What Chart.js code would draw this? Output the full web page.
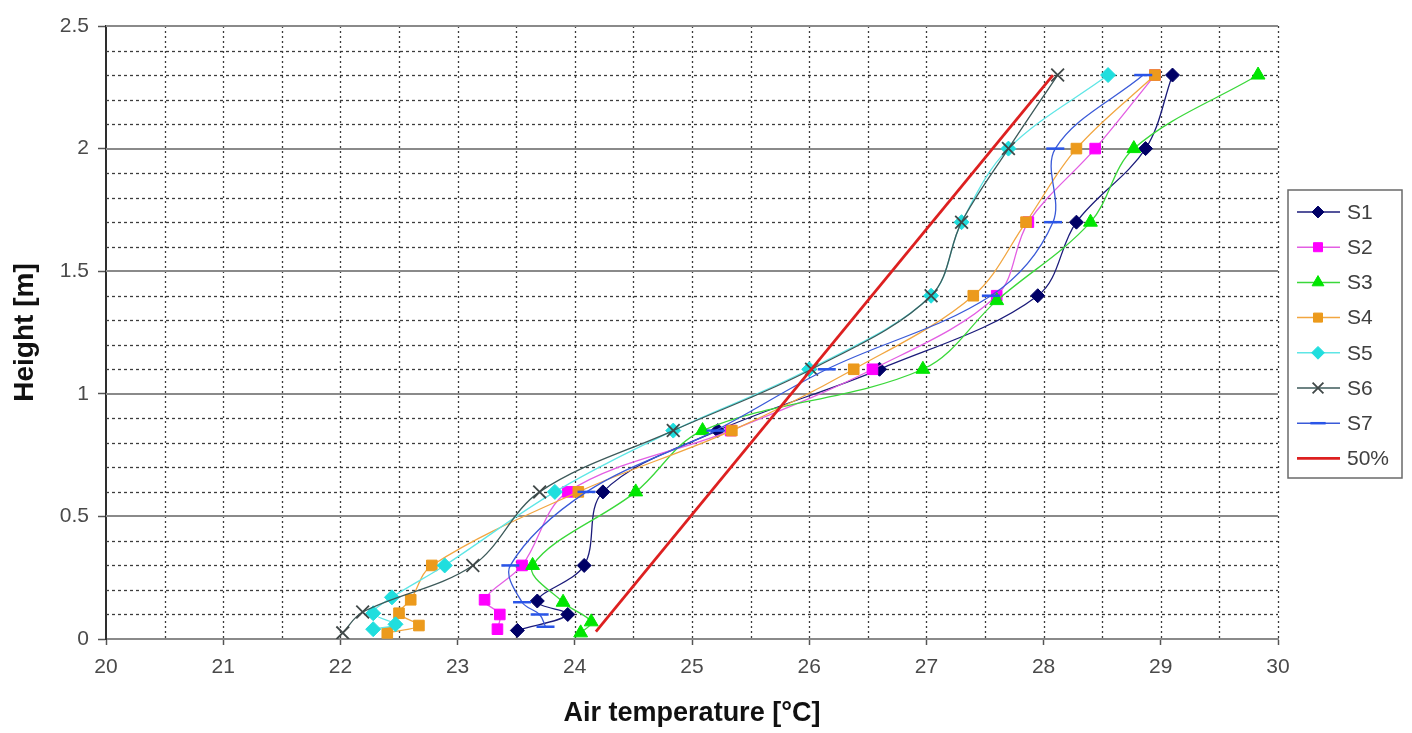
<!DOCTYPE html>
<html>
<head>
<meta charset="utf-8">
<script src="https://cdn.jsdelivr.net/npm/chart.js@4"></script>
<style>
  body { margin: 0; background: #fff; }
  canvas { display: block; }
</style>
</head>
<body>
<canvas id="profile-chart" width="1412" height="733"></canvas>
<script>
// vertical temperature profiles, heights in m, temperatures in °C
var s1Height = [0.035, 0.1, 0.155, 0.3, 0.6, 0.85, 1.1, 1.4, 1.7, 2.0, 2.3];
var s1Temp   = [23.51, 23.94, 23.68, 24.08, 24.24, 25.22, 26.6, 27.95, 28.28, 28.87, 29.1];

var s2Height = [0.04, 0.1, 0.16, 0.3, 0.6, 0.85, 1.1, 1.4, 1.7, 2.0, 2.3];
var s2Temp   = [23.34, 23.36, 23.23, 23.55, 23.94, 25.33, 26.54, 27.6, 27.87, 28.44, 28.95];

var s3Height = [0.025, 0.07, 0.15, 0.3, 0.6, 0.85, 1.1, 1.38, 1.7, 2.0, 2.3];
var s3Temp   = [24.05, 24.14, 23.9, 23.64, 24.52, 25.09, 26.97, 27.6, 28.4, 28.77, 29.83];

var s4Height = [0.025, 0.055, 0.105, 0.16, 0.3, 0.6, 0.85, 1.1, 1.4, 1.7, 2.0, 2.3];
var s4Temp   = [22.4, 22.67, 22.5, 22.6, 22.78, 24.03, 25.34, 26.38, 27.4, 27.85, 28.28, 28.95];

var s5Height = [0.04, 0.06, 0.105, 0.17, 0.3, 0.6, 0.85, 1.1, 1.4, 1.7, 2.0, 2.3];
var s5Temp   = [22.28, 22.47, 22.28, 22.44, 22.89, 23.83, 24.84, 26.0, 27.04, 27.3, 27.7, 28.55];

var s6Height = [0.025, 0.11, 0.3, 0.6, 0.85, 1.1, 1.4, 1.7, 2.0, 2.3];
var s6Temp   = [22.02, 22.19, 23.13, 23.7, 24.84, 26.02, 27.04, 27.3, 27.7, 28.12];

var s7Height = [0.05, 0.1, 0.15, 0.3, 0.6, 0.85, 1.1, 1.4, 1.7, 2.0, 2.3];
var s7Temp   = [23.75, 23.7, 23.55, 23.45, 24.1, 25.2, 26.15, 27.55, 28.08, 28.1, 28.85];

var refHeight = [0.03, 2.3];
var refTemp   = [24.18, 28.08];

var xTickLabels = [20, 21, 22, 23, 24, 25, 26, 27, 28, 29, 30];
var yTickLabels = [0, 0.5, 1, 1.5, 2, 2.5];

function pts(temps, heights) {
  return temps.map(function (t, i) { return { x: t, y: heights[i] }; });
}

function isLabel(list, v) {
  for (var i = 0; i < list.length; i++) if (Math.abs(list[i] - v) < 1e-6) return true;
  return false;
}

var FONT = "'Liberation Sans', Arial, sans-serif";

var series = [
  { label: 'S1', data: pts(s1Temp, s1Height), line: '#1b1b7a', mark: '#000066', style: 'rectRot', r: 7, bw: 1 },
  { label: 'S2', data: pts(s2Temp, s2Height), line: '#e35ee3', mark: '#ff00ff', style: 'rect', r: 7.5, bw: 1 },
  { label: 'S3', data: pts(s3Temp, s3Height), line: '#3ad83a', mark: '#00e600', style: 'triangle', r: 8, bw: 1 },
  { label: 'S4', data: pts(s4Temp, s4Height), line: '#f2a640', mark: '#ec9a1c', style: 'rect', r: 7.5, bw: 1 },
  { label: 'S5', data: pts(s5Temp, s5Height), line: '#5ee6e6', mark: '#20dede', style: 'rectRot', r: 7.5, bw: 1 },
  { label: 'S6', data: pts(s6Temp, s6Height), line: '#3d5a5a', mark: '#404848', style: 'crossRot', r: 9, bw: 1.8 },
  { label: 'S7', data: pts(s7Temp, s7Height), line: '#3a5ad8', mark: '#2a55e8', style: 'line', r: 9, bw: 2.5 },
  { label: '50%', data: pts(refTemp, refHeight), line: '#dd2020', mark: '#dd2020', style: false, r: 0, bw: 0 }
];

var datasets = series.map(function (s, i) {
  return {
    label: s.label,
    data: s.data,
    showLine: true,
    tension: s.label === '50%' ? 0 : 0.35,
    borderColor: s.line,
    borderWidth: s.label === '50%' ? 2.8 : 1.3,
    pointStyle: s.style,
    pointRadius: s.r,
    pointHoverRadius: s.r,
    pointBackgroundColor: s.mark,
    pointBorderColor: s.mark,
    pointBorderWidth: s.bw,
    order: series.length - i
  };
});

// dotted / solid grid in the style of the original spreadsheet chart
var excelGrid = {
  id: 'excelGrid',
  beforeDatasetsDraw: function (chart) {
    var ctx = chart.ctx, a = chart.chartArea, x = chart.scales.x, y = chart.scales.y;
    ctx.save();
    ctx.lineWidth = 1.3;
    ctx.strokeStyle = '#3c3c3c';
    ctx.setLineDash([2, 3]);
    for (var k = 41; k <= 60; k++) {
      var px = Math.round(x.getPixelForValue(k / 2)) + 0.5;
      ctx.beginPath(); ctx.moveTo(px, a.top); ctx.lineTo(px, a.bottom); ctx.stroke();
    }
    ctx.setLineDash([3, 3]);
    for (var j = 1; j < 25; j++) {
      if (j % 5 === 0) continue;
      var py = Math.round(y.getPixelForValue(j / 10)) + 0.5;
      ctx.beginPath(); ctx.moveTo(a.left, py); ctx.lineTo(a.right, py); ctx.stroke();
    }
    ctx.setLineDash([]);
    ctx.strokeStyle = '#8a8a8a';
    ctx.lineWidth = 2;
    for (var m = 5; m <= 25; m += 5) {
      var py2 = Math.round(y.getPixelForValue(m / 10));
      ctx.beginPath(); ctx.moveTo(a.left, py2); ctx.lineTo(a.right, py2); ctx.stroke();
    }
    ctx.restore();
  }
};

// legend box with line + marker samples
var boxLegend = {
  id: 'boxLegend',
  afterDraw: function (chart) {
    var ctx = chart.ctx;
    var left = 1288, top = 190, w = 114, h = 288;
    ctx.save();
    ctx.fillStyle = '#ffffff';
    ctx.fillRect(left, top, w, h);
    ctx.strokeStyle = '#6a6a6a';
    ctx.lineWidth = 1.5;
    ctx.strokeRect(left, top, w, h);
    ctx.font = '21px ' + FONT;
    ctx.textBaseline = 'middle';
    series.forEach(function (s, i) {
      var cy = 212 + i * 35.2;
      ctx.strokeStyle = s.line;
      ctx.lineWidth = s.label === '50%' ? 2.8 : 1.5;
      ctx.beginPath(); ctx.moveTo(1297, cy); ctx.lineTo(1340, cy); ctx.stroke();
      if (s.style && Chart.helpers && Chart.helpers.drawPoint) {
        ctx.fillStyle = s.mark;
        ctx.strokeStyle = s.mark;
        ctx.lineWidth = s.bw;
        Chart.helpers.drawPoint(ctx, { pointStyle: s.style, radius: s.r * 0.85, borderWidth: s.bw, rotation: 0 }, 1318, cy);
      }
      ctx.fillStyle = '#404040';
      ctx.fillText(s.label, 1347, cy + 1);
    });
    ctx.restore();
  }
};

var ctx = document.getElementById('profile-chart');

var profileChart = new Chart(ctx, {
  type: 'scatter',
  data: { datasets: datasets },
  plugins: [excelGrid, boxLegend],
  options: {
    responsive: false,
    animation: false,
    layout: { padding: { left: 0, top: 26, right: 134, bottom: 0 } },
    plugins: {
      legend: { display: false },
      tooltip: { enabled: false }
    },
    scales: {
      x: {
        type: 'linear',
        min: 20,
        max: 30,
        afterFit: function (s) { s.height = 94; },
        ticks: {
          stepSize: 0.5,
          autoSkip: false,
          maxRotation: 0,
          padding: 10,
          color: '#4a4a4a',
          font: { family: FONT, size: 21 },
          callback: function (v) { return isLabel(xTickLabels, v) ? String(Math.round(v)) : ''; }
        },
        grid: {
          drawOnChartArea: false,
          drawTicks: true,
          tickLength: 6,
          tickWidth: 1.5,
          tickColor: function (c) { return isLabel(xTickLabels, c.tick.value) ? '#555' : 'rgba(0,0,0,0)'; }
        },
        border: { display: true, color: '#8a8a8a', width: 2 },
        title: {
          display: true,
          text: 'Air temperature [°C]',
          color: '#111',
          font: { family: FONT, size: 27, weight: 'bold' },
          padding: { top: 3, bottom: 3 }
        }
      },
      y: {
        type: 'linear',
        min: 0,
        max: 2.5,
        afterFit: function (s) { s.width = 106; },
        ticks: {
          stepSize: 0.1,
          autoSkip: false,
          padding: 9,
          color: '#4a4a4a',
          font: { family: FONT, size: 21 },
          callback: function (v) { return isLabel(yTickLabels, v) ? String(Number(v.toFixed(1))) : ''; }
        },
        grid: {
          drawOnChartArea: false,
          drawTicks: true,
          tickLength: 8,
          tickWidth: 1.5,
          tickColor: function (c) { return isLabel(yTickLabels, c.tick.value) ? '#555' : 'rgba(0,0,0,0)'; }
        },
        border: { display: true, color: '#2e2e2e', width: 2 },
        title: {
          display: true,
          text: 'Height [m]',
          color: '#111',
          font: { family: FONT, size: 28, weight: 'bold' },
          padding: { top: 8, bottom: 8 }
        }
      }
    }
  }
});
</script>
</body>
</html>
